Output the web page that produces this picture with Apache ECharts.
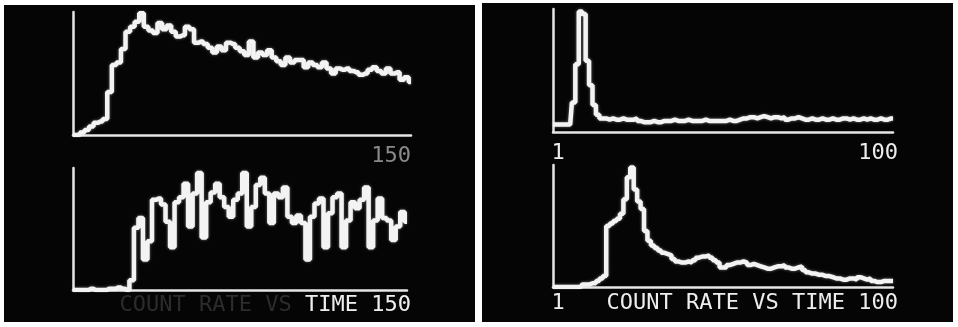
<!DOCTYPE html>
<html>
<head>
<meta charset="utf-8">
<script src="https://cdn.jsdelivr.net/npm/echarts@6/dist/echarts.min.js"></script>
<style>
  html, body { margin: 0; padding: 0; background: #ffffff; }
  #chart { width: 958px; height: 327px; }
</style>
</head>
<body>
<div id="chart"></div>
<script>
// count rate spectra, 0..100 = full scale of each trace
const topLeft = [0, 0, 2, 4, 7, 10, 11, 13, 35, 57,
  59, 70, 84, 88, 92, 99, 88, 85, 83, 91,
  86, 89, 84, 80, 81, 88, 86, 75, 76, 74,
  71, 67, 72, 69, 75, 74, 71, 68, 65, 76,
  63, 67, 65, 69, 63, 60, 57, 63, 59, 61,
  61, 55, 59, 57, 55, 59, 54, 50, 54, 53,
  54, 52, 51, 49, 50, 53, 55, 52, 50, 54,
  50, 51, 45, 47, 43];

const bottomLeft = [0, 0, 0, 0, 1, 0, 0, 0, 1, 1,
  2, 1, 0, 8, 51, 59, 25, 40, 74, 75,
  70, 56, 35, 72, 76, 87, 52, 79, 96, 43,
  72, 80, 87, 76, 68, 60, 74, 79, 96, 52,
  68, 86, 92, 79, 55, 79, 76, 84, 60, 55,
  61, 55, 25, 60, 71, 75, 35, 63, 76, 79,
  35, 57, 72, 67, 74, 84, 35, 57, 75, 59,
  57, 41, 52, 64, 56];

const topRight = [6, 6, 6, 6, 6, 6,
  24, 55, 98, 96, 58, 38, 22, 14, 11,
  11, 10, 11, 10, 10, 11, 10, 10, 10, 11,
  9, 8, 8, 8, 9, 8, 8,
  9, 9, 9, 10, 9, 9, 9, 10, 9, 9, 9, 9, 10, 9, 9, 9, 9, 9, 9, 10, 9, 9, 10, 11, 11,
  12, 12, 11, 12, 13, 12, 11, 12, 12, 11, 12, 10, 11, 11, 12, 11,
  10, 10, 11, 10, 10, 11, 10, 10, 11, 10, 10, 11, 11, 10, 11, 10, 10, 11, 10, 11, 10, 10, 11, 10, 10, 11, 11];

const bottomRight = [0, 0, 0, 0, 0, 0, 0, 0, 0,
  2, 2, 3, 3, 5, 7, 9,
  50, 52, 54, 56, 60, 72, 90, 98, 80, 70, 64,
  46, 38, 34, 32, 30, 28, 27, 26, 23, 21, 20, 20, 21, 20,
  22, 24, 25, 25, 26, 24, 22, 20, 16, 16, 18, 19, 20, 20, 21, 20, 18, 19, 18, 17,
  16, 15, 15, 16, 17, 17, 18, 16, 15, 15, 16, 17, 14, 12, 11, 11, 10, 10, 9, 9,
  8, 7, 7, 6, 6, 7, 7, 6, 8, 7, 6, 7, 5, 4, 4, 5, 5, 5, 5];

const leftChannels = topLeft.map((v, i) => i + 1);
const rightChannels = topRight.map((v, i) => i + 1);

const leftEndLabel = '150';
const rightStartLabel = '1';
const rightEndLabel = '100';
const captionLeft = 'COUNT RATE VS TIME 150';
const captionLeftBright = 'TIME 150';
const captionRight = 'COUNT RATE VS TIME 100';

const chart = echarts.init(document.getElementById('chart'));

const phosphor = '#f3f3f3';
const mono = '"DejaVu Sans Mono", "Liberation Mono", monospace';

const grids = [
  { left: 73, top: 12, width: 338, height: 123 },
  { left: 73, top: 168, width: 334, height: 122 },
  { left: 553, top: 9, width: 340, height: 123 },
  { left: 553, top: 165, width: 340, height: 122 }
];

const xAxes = [leftChannels, leftChannels, rightChannels, rightChannels].map((cats, i) => ({
  type: 'category',
  gridIndex: i,
  data: cats,
  boundaryGap: false,
  axisLine: { lineStyle: { color: '#e6e6e6', width: 2.5 } },
  axisTick: { show: false },
  axisLabel: { show: false },
  splitLine: { show: false }
}));

const yAxes = grids.map((g, i) => ({
  type: 'value',
  gridIndex: i,
  min: 0,
  max: 100,
  axisLine: { show: true, lineStyle: { color: '#e6e6e6', width: 2.5 } },
  axisTick: { show: false },
  axisLabel: { show: false },
  splitLine: { show: false }
}));

const series = [topLeft, bottomLeft, topRight, bottomRight].map((vals, i) => ({
  type: 'line',
  xAxisIndex: i,
  yAxisIndex: i,
  data: vals,
  step: 'middle',
  symbol: 'none',
  silent: true,
  lineStyle: {
    color: phosphor,
    width: 4.5,
    shadowColor: 'rgba(255,255,255,0.45)',
    shadowBlur: 3
  }
}));

function label(text, x, y, align, color) {
  return {
    type: 'text',
    z: 10,
    x: x,
    y: y,
    style: {
      text: text,
      fill: color,
      font: '22px ' + mono,
      textAlign: align,
      textVerticalAlign: 'middle'
    }
  };
}

const option = {
  backgroundColor: '#ffffff',
  animation: false,
  grid: grids,
  xAxis: xAxes,
  yAxis: yAxes,
  series: series,
  graphic: [
    // the two CRT screens
    { type: 'rect', z: -10, shape: { x: 4, y: 5, width: 471, height: 317 }, style: { fill: '#050505' } },
    { type: 'rect', z: -10, shape: { x: 482, y: 3, width: 471, height: 319 }, style: { fill: '#050505' } },
    label(leftEndLabel, 411, 156, 'right', '#8a8a8a'),
    label(captionLeft, 411, 305, 'right', '#2c2c2c'),
    label(captionLeftBright, 411, 305, 'right', '#ededed'),
    label(rightStartLabel, 558, 153, 'center', '#ededed'),
    label(rightEndLabel, 898, 153, 'right', '#ededed'),
    label(rightStartLabel, 558, 303, 'center', '#ededed'),
    label(captionRight, 898, 303, 'right', '#ededed')
  ]
};

chart.setOption(option);
</script>
</body>
</html>
